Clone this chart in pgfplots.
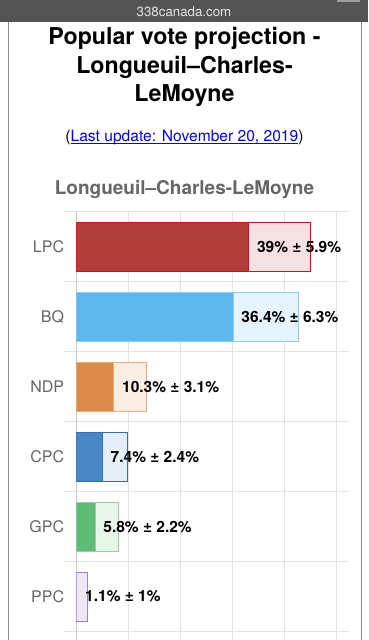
\documentclass[border=0pt]{standalone}
\usepackage{fontspec}
\setmainfont{TeX Gyre Heros}
\usepackage{pgfplots}
\pgfplotsset{compat=1.18}
\definecolor{topbar}{HTML}{545454}
\definecolor{framegray}{HTML}{8C8C8C}
\definecolor{gridc}{HTML}{E3E3E3}
\definecolor{zeroc}{HTML}{C8C8C8}
\definecolor{titlegray}{HTML}{666666}
\definecolor{linkblue}{HTML}{0000EE}
\definecolor{lpcD}{HTML}{B23E3C}\definecolor{lpcL}{HTML}{F6E2E2}\definecolor{lpcB}{HTML}{C01818}
\definecolor{bqD}{HTML}{5DB9EC}\definecolor{bqL}{HTML}{E6F4FD}\definecolor{bqB}{HTML}{8CCBF0}
\definecolor{ndpD}{HTML}{DB8C4B}\definecolor{ndpL}{HTML}{FCEEE3}\definecolor{ndpB}{HTML}{EAAE7C}
\definecolor{cpcD}{HTML}{4A87C5}\definecolor{cpcL}{HTML}{E6EEF8}\definecolor{cpcB}{HTML}{2A71BA}
\definecolor{gpcD}{HTML}{5FBC77}\definecolor{gpcL}{HTML}{E8F5EB}\definecolor{gpcB}{HTML}{8DD29F}
\definecolor{ppcL}{HTML}{EEE7F5}\definecolor{ppcB}{HTML}{9C83C9}
\newcommand{\ul}[1]{\setbox0\hbox{#1}\rlap{\vrule height -1.3pt depth 2.3pt width \wd0}\box0}
\begin{document}
\begin{tikzpicture}
\path[use as bounding box] (0,0) rectangle (368pt,640pt);
\fill[white] (0,0) rectangle (368pt,640pt);
\fill[topbar] (0,618pt) rectangle (368pt,640pt);
\fill[gray!75] (337pt,638pt) rectangle (360pt,640pt);
\node[text=white!90!black, font=\fontsize{13.3}{15}\selectfont] at (184pt,628.3pt) {338canada.com};
\draw[framegray, line width=0.8pt] (8.3pt,0) -- (8.3pt,618pt);
\draw[framegray, line width=0.8pt] (361pt,0) -- (361pt,618pt);
\node[font=\fontsize{23.2}{27}\bfseries] at (184.5pt,602pt) {Popular vote projection -};
\node[font=\fontsize{23.2}{27}\bfseries] at (184.5pt,573pt) {Longueuil–Charles-};
\node[font=\fontsize{23.2}{27}\bfseries] at (184.5pt,544pt) {LeMoyne};
\node[font=\fontsize{15.6}{18}\selectfont] at (184.5pt,502pt) {(\textcolor{linkblue}{\ul{Last update: November 20, 2019}})};
\node[font=\fontsize{19}{22}\bfseries, text=titlegray] at (184.5pt,450pt) {Longueuil–Charles-LeMoyne};
\begin{axis}[
  at={(76.3pt,0pt)}, anchor=south west, scale only axis,
  width=260.4pt, height=428.3pt,
  xmin=0, xmax=50, ymin=-0.5, ymax=5.62, y dir=reverse,
  axis line style={draw=none},
  xtick={10,20,...,50}, xticklabels={}, xmajorgrids,
  ytick={-0.5,0.5,...,5.5}, yticklabels={}, ymajorgrids,
  grid style={gridc, line width=0.8pt},
  tick align=outside,
  x tick style={draw=none},
  y tick style={gridc, line width=0.8pt}, major tick length=12pt,
  extra x ticks={0}, extra x tick labels={},
  extra x tick style={grid style={zeroc, line width=0.9pt}, tick style={draw=none}},
  extra y ticks={0,1,2,3,4,5}, extra y tick labels={LPC,BQ,NDP,CPC,GPC,PPC},
  extra y tick style={grid=none, major tick length=0pt, tick style={draw=none},
    yticklabel style={anchor=east, inner sep=0pt, xshift=-12pt, text=titlegray, font=\fontsize{16}{18}\selectfont}},
  xbar, bar width=0.7, bar shift=0pt,
  lab/.style={point meta=explicit symbolic, nodes near coords,
    every node near coord/.style={anchor=west, xshift=8pt, inner sep=0pt, text=black, font=\fontsize{15.5}{18}\bfseries}},
]
\addplot[fill=lpcL, draw=lpcB, line width=0.8pt] coordinates {(44.9,0)};
\addplot[fill=bqL, draw=bqB, line width=0.8pt] coordinates {(42.7,1)};
\addplot[fill=ndpL, draw=ndpB, line width=0.8pt] coordinates {(13.4,2)};
\addplot[fill=cpcL, draw=cpcB, line width=0.8pt] coordinates {(9.8,3)};
\addplot[fill=gpcL, draw=gpcB, line width=0.8pt] coordinates {(8.0,4)};
\addplot[fill=ppcL, draw=ppcB, line width=0.8pt] coordinates {(2.1,5)};
\addplot[fill=lpcD, draw=lpcB, line width=0.8pt, lab] coordinates {(33.1,0) [39\% ± 5.9\%]};
\addplot[fill=bqD, draw=bqB, line width=0.8pt, lab] coordinates {(30.1,1) [36.4\% ± 6.3\%]};
\addplot[fill=ndpD, draw=ndpB, line width=0.8pt, lab] coordinates {(7.2,2) [10.3\% ± 3.1\%]};
\addplot[fill=cpcD, draw=cpcB, line width=0.8pt, lab] coordinates {(5.0,3) [7.4\% ± 2.4\%]};
\addplot[fill=gpcD, draw=gpcB, line width=0.8pt, lab] coordinates {(3.6,4) [5.8\% ± 2.2\%]};
\addplot[fill=ppcL, draw=ppcB, line width=0.8pt, lab] coordinates {(0.1,5) [1.1\% ± 1\%]};
\end{axis}
\end{tikzpicture}
\end{document}
